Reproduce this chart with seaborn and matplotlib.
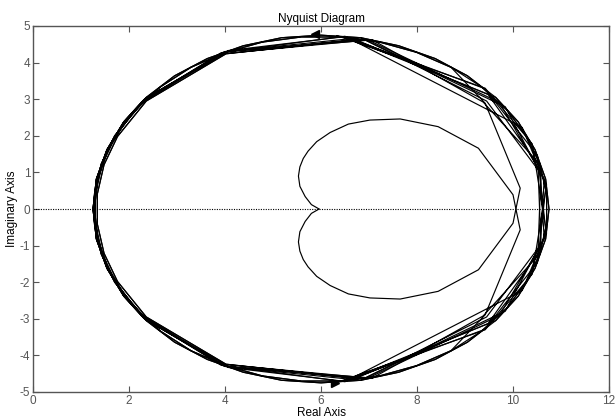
import numpy as np
import pandas as pd
import matplotlib
matplotlib.use("Agg")
import matplotlib.pyplot as plt
import seaborn as sns

# Low-frequency lobe of the positive-frequency branch (real / imaginary parts)
inner_re = [5.96, 5.80, 5.67, 5.56, 5.53, 5.56, 5.63, 5.73, 5.91, 6.19, 6.57, 7.02, 7.65,
            8.44, 9.28, 10.00, 10.15, 9.42]
inner_im = [0.00, -0.12, -0.34, -0.62, -0.90, -1.15, -1.38, -1.58, -1.84, -2.09, -2.32, -2.43,
            -2.46, -2.25, -1.66, -0.39, 0.57, 2.89]

# First sweeps around the outer circle (finely sampled)
sweep1_re = [8.71, 7.99, 7.22, 6.41, 5.59, 4.78, 4.01, 3.29, 2.66, 2.13, 1.72, 1.44, 1.30,
             1.30, 1.44, 1.72, 2.13, 2.66, 3.29, 4.01, 4.78, 5.59, 6.41, 7.22, 7.99, 8.71,
             9.34, 9.87, 10.28, 10.56, 10.70, 10.70, 10.56, 10.28, 9.87, 9.34]
sweep1_im = [3.87, 4.28, 4.56, 4.70, 4.70, 4.56, 4.28, 3.87, 3.34, 2.71, 1.99, 1.22, 0.41,
             -0.41, -1.22, -1.99, -2.71, -3.34, -3.87, -4.28, -4.56, -4.70, -4.70, -4.56,
             -4.28, -3.87, -3.34, -2.71, -1.99, -1.22, -0.41, 0.41, 1.22, 1.99, 2.71, 3.34]
sweep2_re = [9.05, 8.38, 7.62, 6.83, 6.00, 5.18, 4.38, 3.63, 2.95, 2.36, 1.89, 1.54, 1.32,
             1.25, 1.32, 1.54, 1.89, 2.36, 2.95, 3.63, 4.38, 5.18, 6.00, 6.83, 7.62, 8.38,
             9.05, 9.64, 10.11, 10.46, 10.68, 10.75, 10.68, 10.46, 10.11, 9.64]
sweep2_im = [3.64, 4.11, 4.46, 4.68, 4.75, 4.68, 4.46, 4.11, 3.64, 3.05, 2.38, 1.62, 0.82,
             0.00, -0.82, -1.62, -2.38, -3.05, -3.64, -4.11, -4.46, -4.68, -4.75, -4.68,
             -4.46, -4.11, -3.64, -3.05, -2.38, -1.62, -0.82, 0.00, 0.82, 1.62, 2.38, 3.05]

# Later sweeps (coarsely sampled, aliased chords)
sweep3_re = [6.65, 4.02, 2.36, 1.76, 1.48, 1.34, 1.34, 1.48, 1.76, 2.36, 4.02, 6.73,
             9.48, 10.52, 10.58, 9.45]
sweep3_im = [4.63, 4.24, 2.95, 1.98, 1.21, 0.41, -0.41, -1.21, -1.98, -2.95, -4.24,
             -4.62, -3.13, -1.21, 0.97, 2.95]
sweep4_re = [6.90, 4.08, 2.38, 1.91, 1.56, 1.35, 1.28, 1.35, 1.56, 1.91, 2.28, 3.93, 6.98,
             9.72, 10.65, 10.56, 9.38]
sweep4_im = [4.63, 4.31, 3.03, 2.36, 1.61, 0.82, 0.00, -0.82, -1.61, -2.36, -2.91, -4.24,
             -4.62, -2.91, -0.82, 1.22, 2.92]
sweep5_re = [7.07, 4.00, 2.32, 1.70, 1.42, 1.28, 1.28, 1.42, 1.70, 2.37, 4.07, 6.50,
             9.41, 10.51, 10.69, 10.19]
sweep5_im = [4.62, 4.30, 2.98, 2.00, 1.23, 0.41, -0.41, -1.23, -2.00, -3.05, -4.33,
             -4.71, -3.29, -1.46, 0.66, 2.23]
sweep6_re = [6.50, 3.92, 2.26, 1.89, 1.54, 1.32, 1.25, 1.32, 1.54, 1.89, 2.31, 3.99, 6.82,
             9.84, 10.70, 10.40, 9.42, 6.33]
sweep6_im = [4.72, 4.27, 2.92, 2.38, 1.62, 0.82, 0.00, -0.82, -1.62, -2.38, -2.99, -4.30,
             -4.68, -2.79, -0.66, 1.78, 3.30, 4.74]

# Direction arrows (position on the curve)
arrow_re = [5.87, 6.30]
arrow_im = [4.79, -4.76]

x_ticks = [0, 2, 4, 6, 8, 10, 12]
y_ticks = [-5, -4, -3, -2, -1, 0, 1, 2, 3, 4, 5]

re_pos = np.array(inner_re + sweep1_re + sweep2_re + sweep3_re + sweep4_re + sweep5_re + sweep6_re)
im_pos = np.array(inner_im + sweep1_im + sweep2_im + sweep3_im + sweep4_im + sweep5_im + sweep6_im)

# Negative frequencies are the complex conjugate of the positive branch
df = pd.concat([
    pd.DataFrame({"re": re_pos, "im": im_pos, "branch": "pos"}),
    pd.DataFrame({"re": re_pos, "im": -im_pos, "branch": "neg"}),
])

sns.set_theme(style="white")
plt.rcParams["font.family"] = ["Liberation Sans", "DejaVu Sans"]

fig = plt.figure(figsize=(6.15, 4.2), dpi=100)
ax = fig.add_axes([33 / 615, 28 / 420, 576 / 615, 366 / 420])

# zero line
ax.axhline(0, color="black", lw=0.8, ls=(0, (1, 1.2)), zorder=1)

for name, sub in df.groupby("branch"):
    sns.lineplot(data=sub, x="re", y="im", sort=False, estimator=None,
                 color="black", lw=0.85, ax=ax, zorder=2)

ax.plot([arrow_re[0]], [arrow_im[0]], marker="<", color="black", ms=6, ls="none", zorder=3)
ax.plot([arrow_re[1]], [arrow_im[1]], marker=">", color="black", ms=6, ls="none", zorder=3)

ax.set_xlim(0, 12)
ax.set_ylim(-5, 5)
ax.set_xticks(x_ticks)
ax.set_yticks(y_ticks)
ax.set_xticklabels([str(t) for t in x_ticks])
ax.set_yticklabels([str(t) for t in y_ticks])

edge = "#555555"
for s in ax.spines.values():
    s.set_visible(True)
    s.set_color(edge)
    s.set_linewidth(1.0)
ax.tick_params(direction="in", length=4, width=0.8, colors=edge, labelsize=8.5,
               top=True, right=True, bottom=True, left=True, pad=2)
ax.set_xlabel("Real Axis", fontsize=8.5, color="black", labelpad=0)
ax.set_ylabel("Imaginary Axis", fontsize=8.5, color="black", labelpad=1)
ax.set_title("Nyquist Diagram", fontsize=8.5, color="black", pad=3)
ax.grid(False)

fig.savefig("out.png", dpi=100, facecolor="white")
